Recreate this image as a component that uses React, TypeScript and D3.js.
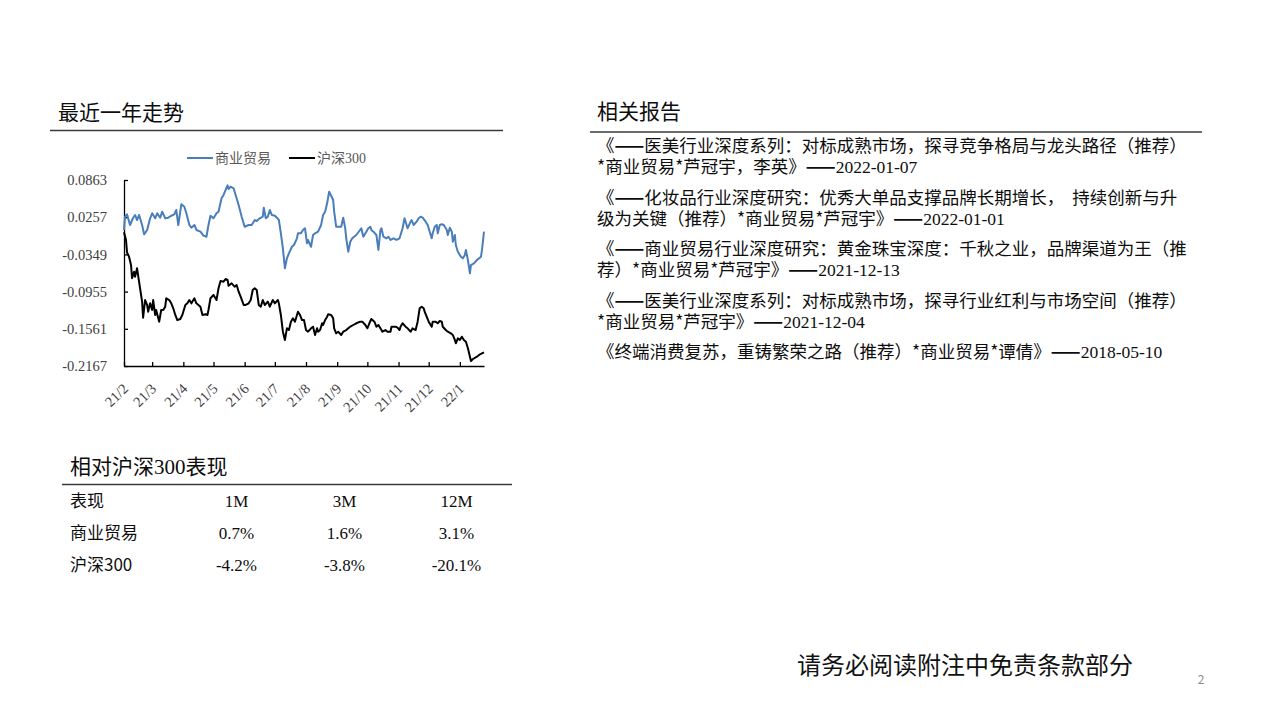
import React, { useEffect, useRef } from 'react';
import * as d3 from 'd3';

// 商业贸易 relative curve
const tradeDates = [
  '2021-02-01', '2021-02-02', '2021-02-04', '2021-02-07', '2021-02-10', '2021-02-12', '2021-02-14', '2021-02-16', '2021-02-19', '2021-02-21', '2021-02-24', '2021-02-27',
  '2021-03-01', '2021-03-04', '2021-03-06', '2021-03-09', '2021-03-11', '2021-03-14', '2021-03-17', '2021-03-20', '2021-03-23', '2021-03-25', '2021-03-27', '2021-03-30',
  '2021-04-02', '2021-04-04', '2021-04-07', '2021-04-09', '2021-04-12', '2021-04-14', '2021-04-18', '2021-04-21', '2021-04-24', '2021-04-26', '2021-04-28',
  '2021-05-01', '2021-05-04', '2021-05-06', '2021-05-09', '2021-05-11', '2021-05-13', '2021-05-15', '2021-05-16', '2021-05-18', '2021-05-21', '2021-05-23', '2021-05-26', '2021-05-29',
  '2021-06-01', '2021-06-05', '2021-06-08', '2021-06-11', '2021-06-13', '2021-06-16', '2021-06-19', '2021-06-20', '2021-06-22', '2021-06-24', '2021-06-26', '2021-06-28',
  '2021-07-01', '2021-07-03', '2021-07-05', '2021-07-07', '2021-07-09', '2021-07-11', '2021-07-13', '2021-07-15', '2021-07-18', '2021-07-20', '2021-07-23', '2021-07-24', '2021-07-27', '2021-07-29', '2021-07-31',
  '2021-08-02', '2021-08-03', '2021-08-06', '2021-08-08', '2021-08-10', '2021-08-13', '2021-08-16', '2021-08-18', '2021-08-20', '2021-08-22', '2021-08-24', '2021-08-26', '2021-08-28', '2021-08-29', '2021-08-31',
  '2021-09-02', '2021-09-05', '2021-09-07', '2021-09-09', '2021-09-10', '2021-09-12', '2021-09-14', '2021-09-16', '2021-09-20', '2021-09-23', '2021-09-25', '2021-09-27', '2021-09-30',
  '2021-10-02', '2021-10-04', '2021-10-05', '2021-10-07', '2021-10-10', '2021-10-12', '2021-10-14', '2021-10-15', '2021-10-17', '2021-10-20', '2021-10-22', '2021-10-24', '2021-10-27', '2021-10-30',
  '2021-11-02', '2021-11-03', '2021-11-05', '2021-11-07', '2021-11-09', '2021-11-10', '2021-11-13', '2021-11-14', '2021-11-16', '2021-11-19', '2021-11-21', '2021-11-23', '2021-11-25', '2021-11-28', '2021-11-30',
  '2021-12-02', '2021-12-04', '2021-12-05', '2021-12-07', '2021-12-09', '2021-12-10', '2021-12-12', '2021-12-14', '2021-12-16', '2021-12-19', '2021-12-20', '2021-12-22', '2021-12-24', '2021-12-25', '2021-12-27', '2021-12-28', '2021-12-30',
  '2022-01-02', '2022-01-04', '2022-01-06', '2022-01-07', '2022-01-09', '2022-01-11', '2022-01-12', '2022-01-15', '2022-01-18', '2022-01-22', '2022-01-23', '2022-01-25',
];
const tradeValues = [
  0.0049, 0.0265, 0.0304, 0.013, 0.0244, 0.0293, 0.0211, 0.0293, 0.013, -0.0022, 0.0049, 0.0239,
  0.0321, 0.0239, 0.0321, 0.0249, 0.0347, 0.0239, 0.0249, 0.0281, 0.0304, 0.0374, 0.013, 0.0467,
  0.0428, 0.0321, 0.013, 0.0086, 0.013, 0.0049, 0.0021, -0.0044, -0.0061, 0.013, 0.0281,
  0.0239, 0.0321, 0.0347, 0.0565, 0.0619, 0.07, 0.0775, 0.0716, 0.0754, 0.0728, 0.0619, 0.0456, 0.0265,
  0.0102, 0.013, 0.013, 0.0211, 0.0195, 0.0239, 0.0265, 0.0412, 0.0239, 0.0265, 0.0374, 0.0293,
  0.0281, 0.0249, 0.0211, -0.0005, -0.025, -0.0575, -0.0412, -0.0331, -0.0224, -0.0196, -0.0087, -0.0005, -0.0005, 0.0049, 0.0076,
  -0.0168, -0.0114, -0.0224, -0.0033, -0.0005, 0.0021, 0.013, 0.0293, 0.0347, 0.0483, 0.0672, 0.0607, 0.0537, 0.0347, 0.0102,
  0.0102, 0.0102, 0.0249, 0.0076, -0.0087, -0.0305, -0.0142, -0.0087, -0.0033, 0.0032, 0.0076, -0.0061, 0.0021,
  0.0076, 0.0102, 0.0049, 0.0021, -0.0033, -0.0277, 0.0049, 0.0076, -0.0061, -0.0087, -0.0061, -0.0114, -0.0087, -0.0114,
  -0.0087, -0.0033, 0.0076, 0.0239, 0.013, 0.0076, 0.0184, 0.0211, 0.013, 0.0184, 0.0239, 0.0265, 0.0249, 0.0184, 0.013,
  0.0021, -0.0087, -0.0005, 0.0102, 0.013, -0.0005, 0.013, 0.0141, 0.013, 0.0049, -0.0033, 0.0086, 0.0021, -0.0142, -0.0033, -0.0196, -0.0305,
  -0.0386, -0.0412, -0.0359, -0.0277, -0.044, -0.0657, -0.0522, -0.0494, -0.044, -0.0386, -0.0277, 0.0021,
];

// 沪深300 relative curve
const hs300Dates = [
  '2021-02-01', '2021-02-03', '2021-02-04', '2021-02-06', '2021-02-08', '2021-02-09', '2021-02-11', '2021-02-12', '2021-02-14', '2021-02-15', '2021-02-17', '2021-02-19', '2021-02-20', '2021-02-22', '2021-02-24', '2021-02-25', '2021-02-27',
  '2021-03-01', '2021-03-02', '2021-03-04', '2021-03-05', '2021-03-08', '2021-03-10', '2021-03-12', '2021-03-14', '2021-03-15', '2021-03-18', '2021-03-20', '2021-03-22', '2021-03-24', '2021-03-26', '2021-03-29', '2021-03-31',
  '2021-04-03', '2021-04-05', '2021-04-07', '2021-04-09', '2021-04-12', '2021-04-14', '2021-04-18', '2021-04-20', '2021-04-23', '2021-04-25', '2021-04-26', '2021-04-28',
  '2021-05-01', '2021-05-04', '2021-05-06', '2021-05-08', '2021-05-11', '2021-05-13', '2021-05-15', '2021-05-16', '2021-05-19', '2021-05-22', '2021-05-24', '2021-05-26', '2021-05-28', '2021-05-31',
  '2021-06-02', '2021-06-05', '2021-06-07', '2021-06-09', '2021-06-11', '2021-06-13', '2021-06-15', '2021-06-17', '2021-06-19', '2021-06-21', '2021-06-24', '2021-06-26', '2021-06-29',
  '2021-07-01', '2021-07-04', '2021-07-05', '2021-07-07', '2021-07-09', '2021-07-11', '2021-07-13', '2021-07-15', '2021-07-17', '2021-07-19', '2021-07-21', '2021-07-24', '2021-07-26', '2021-07-28', '2021-07-30',
  '2021-08-01', '2021-08-03', '2021-08-06', '2021-08-08', '2021-08-10', '2021-08-12', '2021-08-13', '2021-08-15', '2021-08-17', '2021-08-18', '2021-08-20', '2021-08-22', '2021-08-23', '2021-08-26', '2021-08-28', '2021-08-29', '2021-08-31',
  '2021-09-02', '2021-09-05', '2021-09-07', '2021-09-10', '2021-09-12', '2021-09-14', '2021-09-17', '2021-09-20', '2021-09-24', '2021-09-26', '2021-09-29',
  '2021-10-01', '2021-10-03', '2021-10-05', '2021-10-08', '2021-10-10', '2021-10-12', '2021-10-14', '2021-10-16', '2021-10-19', '2021-10-21', '2021-10-24', '2021-10-25', '2021-10-29', '2021-10-31',
  '2021-11-02', '2021-11-03', '2021-11-05', '2021-11-08', '2021-11-10', '2021-11-13', '2021-11-15', '2021-11-18', '2021-11-20', '2021-11-22', '2021-11-24', '2021-11-26', '2021-11-27', '2021-11-29',
  '2021-12-01', '2021-12-04', '2021-12-05', '2021-12-08', '2021-12-10', '2021-12-12', '2021-12-14', '2021-12-15', '2021-12-18', '2021-12-20', '2021-12-23', '2021-12-25', '2021-12-27', '2021-12-28', '2021-12-30',
  '2022-01-01', '2022-01-03', '2022-01-05', '2022-01-07', '2022-01-09', '2022-01-12', '2022-01-14', '2022-01-18', '2022-01-21', '2022-01-23', '2022-01-25',
];
const hs300Values = [
  0.0011, -0.0114, -0.0315, -0.0386, -0.0522, -0.0738, -0.0631, -0.0712, -0.0575, -0.0685, -0.0901, -0.1119, -0.138, -0.1092, -0.1173, -0.1282, -0.1146,
  -0.1255, -0.1092, -0.1336, -0.1255, -0.1445, -0.1255, -0.1255, -0.1201, -0.1064, -0.1092, -0.1146, -0.1227, -0.1336, -0.1418, -0.1401, -0.1336,
  -0.1173, -0.1146, -0.1092, -0.1146, -0.1064, -0.1146, -0.1201, -0.1336, -0.1325, -0.1336, -0.1255, -0.1064,
  -0.101, -0.1092, -0.0901, -0.0782, -0.0794, -0.075, -0.0766, -0.0859, -0.082, -0.0875, -0.0847, -0.0957, -0.1038, -0.1173,
  -0.1173, -0.1146, -0.1092, -0.0929, -0.0901, -0.0929, -0.1173, -0.1201, -0.1092, -0.1173, -0.1119, -0.1201, -0.1092,
  -0.1146, -0.1092, -0.1146, -0.1336, -0.1608, -0.1743, -0.1553, -0.1581, -0.1445, -0.139, -0.1445, -0.1282, -0.1336, -0.1418, -0.1418,
  -0.1581, -0.1608, -0.1553, -0.1527, -0.1662, -0.1553, -0.1608, -0.1581, -0.1471, -0.1499, -0.1418, -0.1364, -0.1325, -0.1336, -0.139, -0.1553, -0.1634,
  -0.1608, -0.1662, -0.1608, -0.1581, -0.1553, -0.1527, -0.1499, -0.1471, -0.1445, -0.1445, -0.1499,
  -0.1553, -0.1471, -0.1401, -0.1445, -0.1527, -0.1499, -0.1553, -0.1608, -0.1581, -0.1608, -0.1608, -0.1527, -0.1527, -0.1543,
  -0.1581, -0.1527, -0.1471, -0.1527, -0.1553, -0.1608, -0.1553, -0.1581, -0.1445, -0.1227, -0.1201, -0.1227, -0.1282, -0.1364,
  -0.1445, -0.1527, -0.1445, -0.1445, -0.1471, -0.1434, -0.1445, -0.1527, -0.1581, -0.1608, -0.1634, -0.1662, -0.1743, -0.1797, -0.1716,
  -0.1743, -0.169, -0.1743, -0.1771, -0.1879, -0.2085, -0.2053, -0.2015, -0.1976, -0.196, -0.1944,
];

const yTicks = [0.0863, 0.0257, -0.0349, -0.0955, -0.1561, -0.2167];
const monthTicks = [
  '2021-02-01', '2021-03-01', '2021-04-01', '2021-05-01', '2021-06-01', '2021-07-01',
  '2021-08-01', '2021-09-01', '2021-10-01', '2021-11-01', '2021-12-01', '2022-01-01',
];
const monthLabels = ['21/2', '21/3', '21/4', '21/5', '21/6', '21/7', '21/8', '21/9', '21/10', '21/11', '21/12', '22/1'];
const axisStart = '2021-02-01';
const axisEnd = '2022-01-25';

const seriesNames = ['商业贸易', '沪深300'];
const seriesColors = ['#4a7ebb', '#000000'];

const tableHeader = ['表现', '1M', '3M', '12M'];
const tradeReturns = ['0.7%', '1.6%', '3.1%'];
const hs300Returns = ['-4.2%', '-3.8%', '-20.1%'];

const reports = [
  ['《——医美行业深度系列：对标成熟市场，探寻竞争格局与龙头路径（推荐）', '*商业贸易*芦冠宇，李英》——2022-01-07'],
  ['《——化妆品行业深度研究：优秀大单品支撑品牌长期增长，  持续创新与升', '级为关键（推荐）*商业贸易*芦冠宇》——2022-01-01'],
  ['《——商业贸易行业深度研究：黄金珠宝深度：千秋之业，品牌渠道为王（推', '荐）*商业贸易*芦冠宇》——2021-12-13'],
  ['《——医美行业深度系列：对标成熟市场，探寻行业红利与市场空间（推荐）', '*商业贸易*芦冠宇》——2021-12-04'],
  ['《终端消费复苏，重铸繁荣之路（推荐）*商业贸易*谭倩》——2018-05-10'],
];

const SANS = '"Noto Sans CJK SC", "Microsoft YaHei", sans-serif';
const SERIF = '"Liberation Serif", "Times New Roman", serif';
const MIXED = `"Liberation Serif", ${SANS}`;

const App: React.FC = () => {
  const svgRef = useRef<SVGSVGElement | null>(null);

  useEffect(() => {
    if (!svgRef.current) return;
    const svg = d3.select(svgRef.current);
    svg.selectAll('*').remove();

    const parse = d3.timeParse('%Y-%m-%d');

    // section titles + rules
    const title = (x: number, y: number, text: string, family: string) =>
      svg.append('text').attr('x', x).attr('y', y).attr('font-family', family)
        .attr('font-size', 21).attr('fill', '#0d0d0d').text(text);
    title(58, 119.5, '最近一年走势', SANS);
    title(597, 119, '相关报告', SANS);
    title(70, 473.5, '相对沪深300表现', MIXED);

    const rule = (x1: number, x2: number, y: number) =>
      svg.append('line').attr('x1', x1).attr('x2', x2).attr('y1', y).attr('y2', y)
        .attr('stroke', '#3a3a3a').attr('stroke-width', 1.5);
    rule(50, 503, 130.5);
    rule(590, 1202, 132);
    rule(62, 512, 484.5);

    // ---- line chart ----
    const x = d3.scaleTime()
      .domain([parse(axisStart)!, parse(axisEnd)!])
      .range([124, 484]);
    const y = d3.scaleLinear().domain([-0.2167, 0.0863]).range([366, 180]);

    const line = d3.line<[Date, number]>()
      .x((d) => x(d[0]))
      .y((d) => y(d[1]));

    const series: [Date, number][][] = [
      tradeDates.map((d, i) => [parse(d)!, tradeValues[i]]),
      hs300Dates.map((d, i) => [parse(d)!, hs300Values[i]]),
    ];

    const yAxis = d3.axisLeft(y)
      .tickValues(yTicks)
      .tickSizeInner(-4)
      .tickSizeOuter(0)
      .tickPadding(17)
      .tickFormat((d) => (d as number).toFixed(4));
    const gy = svg.append('g').attr('transform', 'translate(124,0)').call(yAxis);
    gy.attr('font-family', SERIF).attr('font-size', 14.5);
    gy.selectAll('text').attr('fill', '#404040');
    gy.selectAll('path,line').attr('stroke', '#000').attr('stroke-width', 1.3);

    const xAxis = d3.axisBottom(x)
      .tickValues(monthTicks.map((d) => parse(d)!))
      .tickSizeInner(-4)
      .tickSizeOuter(0)
      .tickFormat((_, i) => monthLabels[i]);
    const gx = svg.append('g').attr('transform', 'translate(0,366)').call(xAxis);
    gx.attr('font-family', SERIF).attr('font-size', 14.5);
    gx.selectAll('path,line').attr('stroke', '#000').attr('stroke-width', 1.3);
    gx.selectAll('text')
      .attr('fill', '#404040')
      .attr('x', 0)
      .attr('y', 0)
      .attr('dy', '0.35em')
      .attr('text-anchor', 'end')
      .attr('transform', 'translate(1,20) rotate(-45)');

    series.forEach((s, i) => {
      svg.append('path')
        .datum(s)
        .attr('d', line)
        .attr('fill', 'none')
        .attr('stroke', seriesColors[i])
        .attr('stroke-width', 2)
        .attr('stroke-linejoin', 'round');
    });

    // legend
    const legendX = [187, 289];
    seriesNames.forEach((name, i) => {
      svg.append('line')
        .attr('x1', legendX[i]).attr('x2', legendX[i] + 26)
        .attr('y1', 158).attr('y2', 158)
        .attr('stroke', seriesColors[i]).attr('stroke-width', 2);
      svg.append('text')
        .attr('x', legendX[i] + 28).attr('y', 163)
        .attr('font-family', MIXED).attr('font-size', 14)
        .attr('fill', '#595959')
        .text(name);
    });

    // ---- related reports ----
    reports.forEach((lines, k) => {
      lines.forEach((ln, j) => {
        const t = svg.append('text')
          .attr('x', 597)
          .attr('y', 152 + k * 51.5 + j * 21)
          .attr('font-family', SANS)
          .attr('font-size', 17.5)
          .attr('fill', '#0d0d0d')
          .style('white-space', 'pre');
        ln.split(/(\d{4}-\d{2}-\d{2}|——)/).filter((p) => p).forEach((part) => {
          const span = t.append('tspan').text(part);
          if (/^\d{4}-/.test(part)) span.attr('font-family', SERIF);
          if (part === '——') span.attr('font-weight', 'bold');
        });
      });
    });

    // ---- performance table ----
    const colX = [236.5, 344.5, 456.5];
    const rows = [tableHeader.slice(1), tradeReturns, hs300Returns];
    const rowLabels = [tableHeader[0], seriesNames[0], seriesNames[1]];
    rows.forEach((cells, r) => {
      const yy = 507 + r * 32;
      svg.append('text')
        .attr('x', 70).attr('y', yy)
        .attr('font-family', SANS).attr('font-size', 17)
        .attr('fill', '#0d0d0d')
        .text(rowLabels[r]);
      cells.forEach((c, ci) => {
        svg.append('text')
          .attr('x', colX[ci]).attr('y', yy)
          .attr('text-anchor', 'middle')
          .attr('font-family', SERIF).attr('font-size', 17)
          .attr('fill', '#0d0d0d')
          .text(c);
      });
    });

    // ---- footer ----
    svg.append('text')
      .attr('x', 797).attr('y', 673.5)
      .attr('font-family', SANS).attr('font-size', 24)
      .attr('fill', '#111')
      .text('请务必阅读附注中免责条款部分');
    svg.append('text')
      .attr('x', 1201).attr('y', 684)
      .attr('text-anchor', 'middle')
      .attr('font-family', SANS).attr('font-size', 12)
      .attr('fill', '#8c8c8c')
      .text('2');
  }, []);

  return (
    <svg
      ref={svgRef}
      width={1279}
      height={719}
      style={{ position: 'absolute', left: 0, top: 0, background: '#fff' }}
    />
  );
};

export default App;
